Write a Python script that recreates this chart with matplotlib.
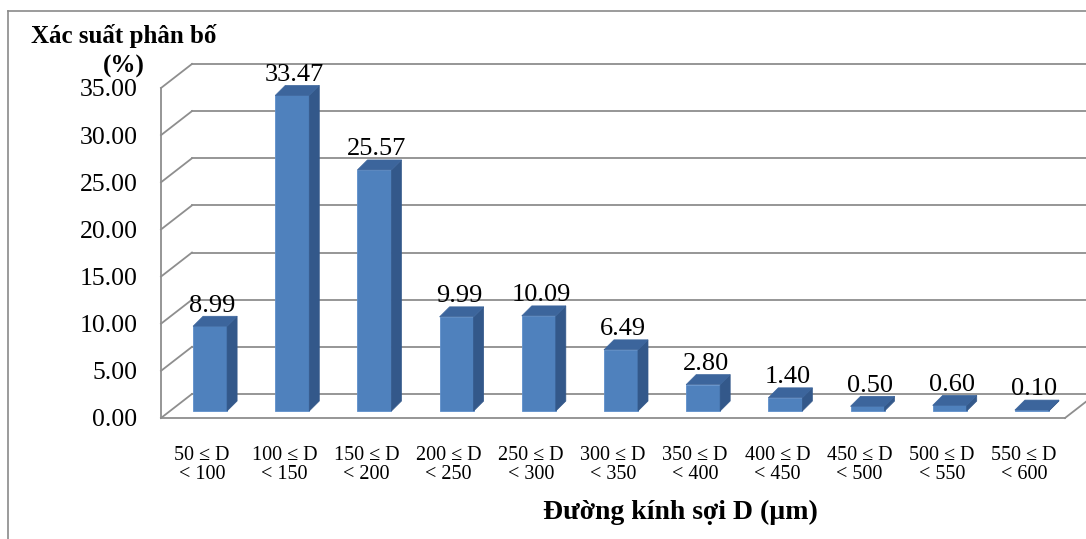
"""Fiber diameter distribution chart, drawn as an Excel-like 3D column chart."""

from __future__ import annotations

import matplotlib

matplotlib.use("Agg")

import matplotlib.pyplot as plt
from matplotlib.lines import Line2D
from matplotlib.patches import Polygon


LOWER_BOUNDS = [50, 100, 150, 200, 250, 300, 350, 400, 450, 500, 550]
UPPER_BOUNDS = [100, 150, 200, 250, 300, 350, 400, 450, 500, 550, 600]
PROBABILITY = [8.99, 33.47, 25.57, 9.99, 10.09, 6.49, 2.80, 1.40, 0.50, 0.60, 0.10]
Y_TICKS = [0, 5, 10, 15, 20, 25, 30, 35]

Y_TITLE = "Xác suất phân bố\n(%)"
X_TITLE = "Đường kính sợi D (µm)"

FRONT_COLOR = "#4f81bd"
SIDE_COLOR = "#33588a"
TOP_COLOR = "#3c659c"
GRID_COLOR = "#8e8e8e"

# oblique projection, in data units (x: categories, y: percent)
WALL_DX, WALL_DY = 0.377, 2.55
BAR_SHIFT, BAR_RAISE = 0.097, 0.74
BAR_HALF, BAR_DX, BAR_DY = 0.207, 0.122, 1.06


def draw_walls(ax, x_left: float, x_right: float) -> None:
    """Side wall, back wall gridlines and floor edge."""
    for v in Y_TICKS:
        ax.add_line(Line2D([x_left, x_left + WALL_DX], [v, v + WALL_DY],
                           color=GRID_COLOR, lw=1.3, clip_on=False, zorder=1))
        ax.add_line(Line2D([x_left + WALL_DX, x_right + WALL_DX + 1.0],
                           [v + WALL_DY, v + WALL_DY],
                           color=GRID_COLOR, lw=1.3, clip_on=False, zorder=1))
    ax.add_line(Line2D([x_right, x_right + WALL_DX], [0, WALL_DY],
                       color=GRID_COLOR, lw=1.3, clip_on=False, zorder=1))


def draw_bars(ax, values: list[float]) -> None:
    """Front faces via ax.bar, side and top faces as polygons."""
    xs = [i + BAR_SHIFT for i in range(len(values))]
    ax.bar(xs, values, width=2 * BAR_HALF, bottom=BAR_RAISE, color=FRONT_COLOR,
           edgecolor="#5e8fcb", linewidth=0.6, zorder=3, clip_on=False)
    for x, v in zip(xs, values):
        xl, xr = x - BAR_HALF, x + BAR_HALF
        y0, y1 = BAR_RAISE, BAR_RAISE + v
        side = [(xr, y0), (xr + BAR_DX, y0 + BAR_DY), (xr + BAR_DX, y1 + BAR_DY), (xr, y1)]
        top = [(xl, y1), (xl + BAR_DX, y1 + BAR_DY), (xr + BAR_DX, y1 + BAR_DY), (xr, y1)]
        ax.add_patch(Polygon(side, closed=True, facecolor=SIDE_COLOR,
                             edgecolor=SIDE_COLOR, lw=0.5, zorder=3, clip_on=False))
        ax.add_patch(Polygon(top, closed=True, facecolor=TOP_COLOR,
                             edgecolor=TOP_COLOR, lw=0.5, zorder=3, clip_on=False))
        ax.text(x + 0.03, y1 + BAR_DY + 0.5, f"{v:.2f}", ha="center", va="baseline",
                fontsize=19, zorder=5)


def main() -> None:
    plt.rcParams["font.family"] = ["Liberation Serif", "DejaVu Serif"]

    fig = plt.figure(figsize=(10.86, 5.39), dpi=100)
    ax = fig.add_axes([161 / 1086, 121 / 539, 904 / 1086, 330 / 539])
    n = len(PROBABILITY)
    ax.set_xlim(-0.5, n - 0.5)
    ax.set_ylim(0, 35)

    draw_walls(ax, -0.5, n - 0.5)
    draw_bars(ax, PROBABILITY)

    ax.set_yticks(Y_TICKS)
    ax.set_yticklabels([f"{v:.2f}" for v in Y_TICKS], fontsize=18.5)
    labels = [f"{lo} ≤ D\n< {hi}" for lo, hi in zip(LOWER_BOUNDS, UPPER_BOUNDS)]
    ax.set_xticks(range(n))
    ax.set_xticklabels(labels, fontsize=14.5, linespacing=1.0)
    ax.tick_params(axis="y", length=0, pad=17)
    ax.tick_params(axis="x", length=0, pad=20)

    for side in ("top", "right"):
        ax.spines[side].set_visible(False)
    for side in ("left", "bottom"):
        ax.spines[side].set_color(GRID_COLOR)
        ax.spines[side].set_linewidth(1.3)
        ax.spines[side].set_zorder(2)
    ax.patch.set_visible(False)

    fig.text(124 / 1086, 1 - 51 / 539, Y_TITLE, ha="center", va="center",
             fontsize=18, fontweight="bold", linespacing=1.35)
    fig.text(680 / 1086, 1 - 512 / 539, X_TITLE, ha="center", va="center",
             fontsize=20, fontweight="bold")

    # outer chart frame (cropped on the right and bottom)
    frame = dict(color="#8a8a8a", lw=1.2, transform=fig.transFigure)
    fig.add_artist(Line2D([8 / 1086, 8 / 1086], [0, 1 - 11 / 539], **frame))
    fig.add_artist(Line2D([8 / 1086, 1], [1 - 11 / 539, 1 - 11 / 539], **frame))

    fig.savefig("out.png", dpi=100)
    plt.close(fig)


if __name__ == "__main__":
    main()
